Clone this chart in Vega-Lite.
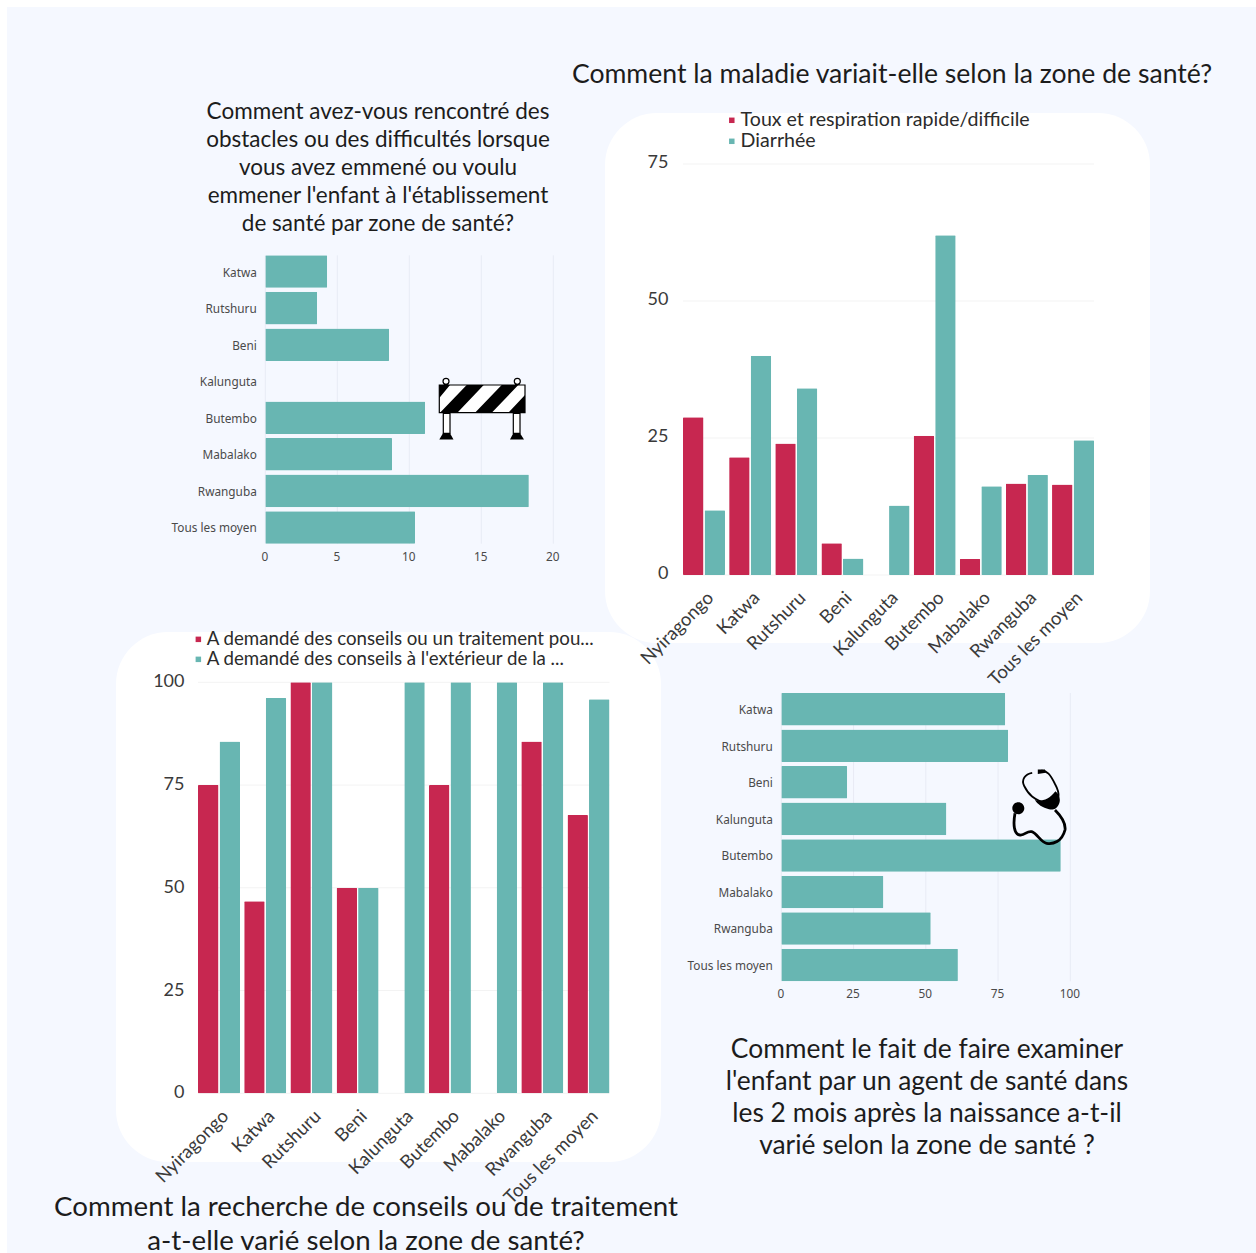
{
  "$schema": "https://vega.github.io/schema/vega-lite/v6.json",
  "width": 1256,
  "height": 1253,
  "padding": 0,
  "autosize": "none",
  "background": "#ffffff",
  "config": {
    "view": {"stroke": null},
    "axis": {"domain": false, "ticks": false, "title": null, "labelOverlap": false, "labelBound": false, "labelFlush": false, "grid": false},
    "legend": {"title": null, "orient": "none", "symbolType": "square", "symbolSize": 30, "labelFont": "Lato", "labelColor": "#2b2b2b", "rowPadding": 0, "labelOffset": -1, "symbolStrokeWidth": 0, "labelLimit": 500}
  },
  "resolve": {
    "scale": {"x": "independent", "y": "independent", "color": "independent", "xOffset": "independent"},
    "axis": {"x": "independent", "y": "independent"},
    "legend": {"color": "independent"}
  },
  "layer": [
    {
      "data": {"values": [{"fond": "page"}]},
      "layer": [
        {
          "mark": {"type": "rect", "fill": "#f5f8ff"},
          "encoding": {
            "x": {"datum": 7, "scale": {"domain": [0, 1256], "range": [0, 1256], "nice": false, "zero": false}, "axis": null},
            "x2": {"datum": 1256},
            "y": {"datum": 7, "scale": {"domain": [0, 1253], "range": [0, 1253], "nice": false, "zero": false}, "axis": null},
            "y2": {"datum": 1253}
          }
        },
        {
          "mark": {"type": "rect", "fill": "#ffffff", "cornerRadius": 52},
          "encoding": {"x": {"datum": 605, "axis": null}, "x2": {"datum": 1150}, "y": {"datum": 113, "axis": null}, "y2": {"datum": 643}}
        },
        {
          "mark": {"type": "rect", "fill": "#ffffff", "cornerRadius": 52},
          "encoding": {"x": {"datum": 116, "axis": null}, "x2": {"datum": 661}, "y": {"datum": 632, "axis": null}, "y2": {"datum": 1162}}
        }
      ]
    },
    {
      "data": {"values": [{"pct": 0}, {"pct": 5}, {"pct": 10}, {"pct": 15}, {"pct": 20}]},
      "mark": {"type": "rule", "color": "#e8ebf5", "strokeWidth": 1},
      "encoding": {
        "x": {"field": "pct", "type": "quantitative", "scale": {"domain": [0, 20], "range": [265.3, 553.3], "nice": false}, "axis": null},
        "y": {"datum": 255.3, "scale": {"domain": [0, 1253], "range": [0, 1253], "nice": false, "zero": false}, "axis": null},
        "y2": {"datum": 543.7}
      }
    },
    {
      "data": {"values": [
        {"zone": "Katwa", "pct": 4.3},
        {"zone": "Rutshuru", "pct": 3.6},
        {"zone": "Beni", "pct": 8.6},
        {"zone": "Kalunguta", "pct": 0},
        {"zone": "Butembo", "pct": 11.1},
        {"zone": "Mabalako", "pct": 8.8},
        {"zone": "Rwanguba", "pct": 18.3},
        {"zone": "Tous les moyen", "pct": 10.4}
      ]},
      "mark": {"type": "bar", "fill": "#68b6b2", "cornerRadius": 1},
      "encoding": {
        "y": {
          "field": "zone", "type": "nominal", "sort": null,
          "scale": {"domain": ["Katwa", "Rutshuru", "Beni", "Kalunguta", "Butembo", "Mabalako", "Rwanguba", "Tous les moyen"], "range": [255.3, 543.7], "paddingInner": 0.11, "paddingOuter": 0},
          "axis": {"orient": "left", "zindex": 1, "offset": -265.3, "labelFont": "Noto Sans", "labelFontSize": 11.8, "labelColor": "#4a4a4a", "labelPadding": 9, "labelOffset": 1}
        },
        "x": {
          "field": "pct", "type": "quantitative",
          "scale": {"domain": [0, 20], "range": [265.3, 553.3], "nice": false},
          "axis": {"orient": "bottom", "zindex": 1, "offset": -709.3, "values": [0, 5, 10, 15, 20], "labelFont": "Noto Sans", "labelFontSize": 11.8, "labelColor": "#4a4a4a", "labelPadding": 8, "labelOffset": -1}
        }
      }
    },
    {
      "data": {"values": [{"pct": 0}, {"pct": 25}, {"pct": 50}, {"pct": 75}]},
      "mark": {"type": "rule", "color": "#f3f3f3", "strokeWidth": 1},
      "encoding": {
        "y": {"field": "pct", "type": "quantitative", "scale": {"domain": [0, 75], "range": [575, 164], "nice": false}, "axis": null},
        "x": {"datum": 683, "scale": {"domain": [0, 1256], "range": [0, 1256], "nice": false, "zero": false}, "axis": null},
        "x2": {"datum": 1094}
      }
    },
    {
      "data": {"values": [
        {"zone": "Nyiragongo", "signe": "Toux et respiration rapide/difficile", "pct": 28.8},
        {"zone": "Nyiragongo", "signe": "Diarrhée", "pct": 11.8},
        {"zone": "Katwa", "signe": "Toux et respiration rapide/difficile", "pct": 21.5},
        {"zone": "Katwa", "signe": "Diarrhée", "pct": 40.0},
        {"zone": "Rutshuru", "signe": "Toux et respiration rapide/difficile", "pct": 24.0},
        {"zone": "Rutshuru", "signe": "Diarrhée", "pct": 34.1},
        {"zone": "Beni", "signe": "Toux et respiration rapide/difficile", "pct": 5.8},
        {"zone": "Beni", "signe": "Diarrhée", "pct": 3.0},
        {"zone": "Kalunguta", "signe": "Toux et respiration rapide/difficile", "pct": 0},
        {"zone": "Kalunguta", "signe": "Diarrhée", "pct": 12.7},
        {"zone": "Butembo", "signe": "Toux et respiration rapide/difficile", "pct": 25.4},
        {"zone": "Butembo", "signe": "Diarrhée", "pct": 62.0},
        {"zone": "Mabalako", "signe": "Toux et respiration rapide/difficile", "pct": 2.9},
        {"zone": "Mabalako", "signe": "Diarrhée", "pct": 16.2},
        {"zone": "Rwanguba", "signe": "Toux et respiration rapide/difficile", "pct": 16.7},
        {"zone": "Rwanguba", "signe": "Diarrhée", "pct": 18.3},
        {"zone": "Tous les moyen", "signe": "Toux et respiration rapide/difficile", "pct": 16.5},
        {"zone": "Tous les moyen", "signe": "Diarrhée", "pct": 24.6}
      ]},
      "mark": {"type": "bar", "cornerRadius": 1},
      "encoding": {
        "x": {
          "field": "zone", "type": "nominal", "sort": null,
          "scale": {"domain": ["Nyiragongo", "Katwa", "Rutshuru", "Beni", "Kalunguta", "Butembo", "Mabalako", "Rwanguba", "Tous les moyen"], "range": [683, 1094], "paddingInner": 0.09, "paddingOuter": 0},
          "axis": {"orient": "bottom", "zindex": 1, "offset": -678, "labelAngle": -45, "labelFont": "Lato", "labelFontSize": 18.5, "labelColor": "#3a3a3a", "labelPadding": 13}
        },
        "xOffset": {"field": "signe", "sort": null, "scale": {"domain": ["Toux et respiration rapide/difficile", "Diarrhée"], "range": [0, 42], "paddingInner": 0.05, "paddingOuter": 0}},
        "y": {
          "field": "pct", "type": "quantitative",
          "scale": {"domain": [0, 75], "range": [575, 164], "nice": false},
          "axis": {"orient": "left", "zindex": 1, "offset": -683, "values": [0, 25, 50, 75], "labelFont": "Lato", "labelFontSize": 18, "labelColor": "#3a3a3a", "labelPadding": 15, "labelOffset": -1.5}
        },
        "color": {
          "field": "signe", "type": "nominal", "sort": null,
          "scale": {"domain": ["Toux et respiration rapide/difficile", "Diarrhée"], "range": ["#c72750", "#68b6b2"]},
          "legend": {"legendX": 722, "legendY": 110.5, "labelFontSize": 19.6}
        }
      }
    },
    {
      "data": {"values": [{"pct": 0}, {"pct": 25}, {"pct": 50}, {"pct": 75}, {"pct": 100}]},
      "mark": {"type": "rule", "color": "#f3f3f3", "strokeWidth": 1},
      "encoding": {
        "y": {"field": "pct", "type": "quantitative", "scale": {"domain": [0, 100], "range": [1093.3, 682.3], "nice": false}, "axis": null},
        "x": {"datum": 198, "scale": {"domain": [0, 1256], "range": [0, 1256], "nice": false, "zero": false}, "axis": null},
        "x2": {"datum": 609.5}
      }
    },
    {
      "data": {"values": [
        {"zone": "Nyiragongo", "recours": "A demandé des conseils ou un traitement pou...", "pct": 75},
        {"zone": "Nyiragongo", "recours": "A demandé des conseils à l'extérieur de la ...", "pct": 85.6},
        {"zone": "Katwa", "recours": "A demandé des conseils ou un traitement pou...", "pct": 46.7},
        {"zone": "Katwa", "recours": "A demandé des conseils à l'extérieur de la ...", "pct": 96.2},
        {"zone": "Rutshuru", "recours": "A demandé des conseils ou un traitement pou...", "pct": 100},
        {"zone": "Rutshuru", "recours": "A demandé des conseils à l'extérieur de la ...", "pct": 100},
        {"zone": "Beni", "recours": "A demandé des conseils ou un traitement pou...", "pct": 50},
        {"zone": "Beni", "recours": "A demandé des conseils à l'extérieur de la ...", "pct": 50},
        {"zone": "Kalunguta", "recours": "A demandé des conseils ou un traitement pou...", "pct": 0},
        {"zone": "Kalunguta", "recours": "A demandé des conseils à l'extérieur de la ...", "pct": 100},
        {"zone": "Butembo", "recours": "A demandé des conseils ou un traitement pou...", "pct": 75},
        {"zone": "Butembo", "recours": "A demandé des conseils à l'extérieur de la ...", "pct": 100},
        {"zone": "Mabalako", "recours": "A demandé des conseils ou un traitement pou...", "pct": 0},
        {"zone": "Mabalako", "recours": "A demandé des conseils à l'extérieur de la ...", "pct": 100},
        {"zone": "Rwanguba", "recours": "A demandé des conseils ou un traitement pou...", "pct": 85.6},
        {"zone": "Rwanguba", "recours": "A demandé des conseils à l'extérieur de la ...", "pct": 100},
        {"zone": "Tous les moyen", "recours": "A demandé des conseils ou un traitement pou...", "pct": 67.7},
        {"zone": "Tous les moyen", "recours": "A demandé des conseils à l'extérieur de la ...", "pct": 95.9}
      ]},
      "mark": {"type": "bar", "cornerRadius": 1},
      "encoding": {
        "x": {
          "field": "zone", "type": "nominal", "sort": null,
          "scale": {"domain": ["Nyiragongo", "Katwa", "Rutshuru", "Beni", "Kalunguta", "Butembo", "Mabalako", "Rwanguba", "Tous les moyen"], "range": [198, 609.5], "paddingInner": 0.09, "paddingOuter": 0},
          "axis": {"orient": "bottom", "zindex": 1, "offset": -159.7, "labelAngle": -45, "labelFont": "Lato", "labelFontSize": 18.5, "labelColor": "#3a3a3a", "labelPadding": 13}
        },
        "xOffset": {"field": "recours", "sort": null, "scale": {"domain": ["A demandé des conseils ou un traitement pou...", "A demandé des conseils à l'extérieur de la ..."], "range": [0, 42], "paddingInner": 0.05, "paddingOuter": 0}},
        "y": {
          "field": "pct", "type": "quantitative",
          "scale": {"domain": [0, 100], "range": [1093.3, 682.3], "nice": false},
          "axis": {"orient": "left", "zindex": 1, "offset": -198, "values": [0, 25, 50, 75, 100], "labelFont": "Lato", "labelFontSize": 18, "labelColor": "#3a3a3a", "labelPadding": 14, "labelOffset": -0.5}
        },
        "color": {
          "field": "recours", "type": "nominal", "sort": null,
          "scale": {"domain": ["A demandé des conseils ou un traitement pou...", "A demandé des conseils à l'extérieur de la ..."], "range": ["#c72750", "#68b6b2"]},
          "legend": {"legendX": 189, "legendY": 630, "labelFontSize": 18.7}
        }
      }
    },
    {
      "data": {"values": [{"pct": 0}, {"pct": 25}, {"pct": 50}, {"pct": 75}, {"pct": 100}]},
      "mark": {"type": "rule", "color": "#e8ebf5", "strokeWidth": 1},
      "encoding": {
        "x": {"field": "pct", "type": "quantitative", "scale": {"domain": [0, 100], "range": [781.3, 1070.3], "nice": false}, "axis": null},
        "y": {"datum": 693, "scale": {"domain": [0, 1253], "range": [0, 1253], "nice": false, "zero": false}, "axis": null},
        "y2": {"datum": 981.3}
      }
    },
    {
      "data": {"values": [
        {"zone": "Katwa", "pct": 77.5},
        {"zone": "Rutshuru", "pct": 78.5},
        {"zone": "Beni", "pct": 22.8},
        {"zone": "Kalunguta", "pct": 57.1},
        {"zone": "Butembo", "pct": 96.7},
        {"zone": "Mabalako", "pct": 35.3},
        {"zone": "Rwanguba", "pct": 51.7},
        {"zone": "Tous les moyen", "pct": 61.1}
      ]},
      "mark": {"type": "bar", "fill": "#68b6b2", "cornerRadius": 1},
      "encoding": {
        "y": {
          "field": "zone", "type": "nominal", "sort": null,
          "scale": {"domain": ["Katwa", "Rutshuru", "Beni", "Kalunguta", "Butembo", "Mabalako", "Rwanguba", "Tous les moyen"], "range": [693, 981.3], "paddingInner": 0.11, "paddingOuter": 0},
          "axis": {"orient": "left", "zindex": 1, "offset": -781.3, "labelFont": "Noto Sans", "labelFontSize": 11.8, "labelColor": "#4a4a4a", "labelPadding": 9, "labelOffset": 1}
        },
        "x": {
          "field": "pct", "type": "quantitative",
          "scale": {"domain": [0, 100], "range": [781.3, 1070.3], "nice": false},
          "axis": {"orient": "bottom", "zindex": 1, "offset": -271.7, "values": [0, 25, 50, 75, 100], "labelFont": "Noto Sans", "labelFontSize": 11.8, "labelColor": "#4a4a4a", "labelPadding": 7, "labelOffset": -1}
        }
      }
    },
    {
      "data": {"values": [
        {
          "haut_gauche": "Comment avez-vous rencontré des\nobstacles ou des difficultés lorsque\nvous avez emmené ou voulu\nemmener l'enfant à l'établissement\nde santé par zone de santé?",
          "haut_droite": "Comment la maladie variait-elle selon la zone de santé?",
          "bas_gauche": "Comment la recherche de conseils ou de traitement\na-t-elle varié selon la zone de santé?",
          "bas_droite": "Comment le fait de faire examiner\nl'enfant par un agent de santé dans\nles 2 mois après la naissance a-t-il\nvarié selon la zone de santé ?"
        }
      ]},
      "layer": [
        {
          "mark": {"type": "text", "font": "Lato", "fontSize": 22.5, "lineHeight": 28, "lineBreak": "\n", "align": "center", "baseline": "middle", "color": "#1c1c1c"},
          "encoding": {
            "x": {"datum": 378, "scale": {"domain": [0, 1256], "range": [0, 1256], "nice": false, "zero": false}, "axis": null},
            "y": {"datum": 112, "scale": {"domain": [0, 1253], "range": [0, 1253], "nice": false, "zero": false}, "axis": null},
            "text": {"field": "haut_gauche"}
          }
        },
        {
          "mark": {"type": "text", "font": "Lato", "fontSize": 26.6, "align": "center", "baseline": "middle", "color": "#1c1c1c"},
          "encoding": {"x": {"datum": 892, "axis": null}, "y": {"datum": 75, "axis": null}, "text": {"field": "haut_droite"}}
        },
        {
          "mark": {"type": "text", "font": "Lato", "fontSize": 27.7, "lineHeight": 33.5, "lineBreak": "\n", "align": "center", "baseline": "middle", "color": "#1c1c1c"},
          "encoding": {"x": {"datum": 366, "axis": null}, "y": {"datum": 1208, "axis": null}, "text": {"field": "bas_gauche"}}
        },
        {
          "mark": {"type": "text", "font": "Lato", "fontSize": 26.4, "lineHeight": 32, "lineBreak": "\n", "align": "center", "baseline": "middle", "color": "#1c1c1c"},
          "encoding": {"x": {"datum": 927, "axis": null}, "y": {"datum": 1049.5, "axis": null}, "text": {"field": "bas_droite"}}
        },
        {
          "mark": {"type": "point", "filled": true, "fill": "#ffffff", "stroke": "#000000", "strokeWidth": 1.2, "size": 7396, "opacity": 1,
            "shape": "M-0.993,-0.581 L1,-0.581 L1,0.063 L-0.993,0.063 Z M-0.9,0.077 L-0.744,0.077 L-0.744,0.542 L-0.9,0.542 Z M0.728,0.077 L0.884,0.077 L0.884,0.542 L0.728,0.542 Z M-0.907,-0.667 A0.07,0.07 0 1 1 -0.767,-0.667 A0.07,0.07 0 1 1 -0.907,-0.667 Z M0.751,-0.667 A0.07,0.07 0 1 1 0.891,-0.667 A0.07,0.07 0 1 1 0.751,-0.667 Z"},
          "encoding": {"x": {"datum": 482, "axis": null}, "y": {"datum": 410, "axis": null}}
        },
        {
          "mark": {"type": "point", "filled": true, "fill": "#000000", "strokeWidth": 0, "size": 7396, "opacity": 1,
            "shape": "M-0.977,0.063 L-0.574,0.063 L0.04,-0.581 L-0.356,-0.581 Z M-0.163,0.063 L0.226,0.063 L0.844,-0.581 L0.458,-0.581 Z M-0.993,-0.581 L-0.744,-0.581 L-0.993,-0.279 Z M0.612,0.063 L1,0.063 L1,-0.349 Z M-0.907,0.542 L-0.744,0.542 L-0.663,0.686 L-0.993,0.686 Z M0.728,0.542 L0.884,0.542 L0.977,0.686 L0.651,0.686 Z"},
          "encoding": {"x": {"datum": 482, "axis": null}, "y": {"datum": 410, "axis": null}}
        },
        {
          "mark": {"type": "point", "filled": false, "stroke": "#000000", "strokeWidth": 2.8, "size": 6400, "opacity": 1,
            "shape": "M-0.55,0.13 C-0.6,0.4 -0.58,0.66 -0.425,0.675 C-0.3,0.69 -0.25,0.56 -0.133,0.592 C0,0.63 0.1,0.86 0.242,0.883 C0.4,0.91 0.62,0.85 0.7,0.55 C0.72,0.4 0.6,0.2 0.45,0.05"},
          "encoding": {"x": {"datum": 1037, "axis": null}, "y": {"datum": 808, "axis": null}}
        },
        {
          "mark": {"type": "point", "filled": false, "stroke": "#000000", "strokeWidth": 1.8, "size": 6400, "opacity": 1,
            "shape": "M0.4,-0.1 C0.58,-0.2 0.56,-0.4 0.45,-0.6 C0.35,-0.8 0.25,-0.98 0.05,-0.92 M-0.12,-0.88 C-0.3,-0.85 -0.4,-0.7 -0.32,-0.55 C-0.22,-0.35 -0.1,-0.2 0.3,-0.1"},
          "encoding": {"x": {"datum": 1037, "axis": null}, "y": {"datum": 808, "axis": null}}
        },
        {
          "mark": {"type": "point", "filled": true, "fill": "#000000", "strokeWidth": 0, "size": 6400, "opacity": 1,
            "shape": "M-0.05,-0.2 C0.1,-0.16 0.3,-0.2 0.46,-0.42 C0.56,-0.35 0.6,-0.2 0.55,-0.1 C0.48,0.05 0.38,0.05 0.3,0.03 C0.15,0 0,-0.1 -0.05,-0.2 Z M0.02,-0.96 L0.2,-0.96 L0.22,-0.88 L0.02,-0.85 Z M-0.617,0.008 A0.15,0.15 0 1 1 -0.317,0.008 A0.15,0.15 0 1 1 -0.617,0.008 Z"},
          "encoding": {"x": {"datum": 1037, "axis": null}, "y": {"datum": 808, "axis": null}}
        }
      ]
    }
  ]
}
